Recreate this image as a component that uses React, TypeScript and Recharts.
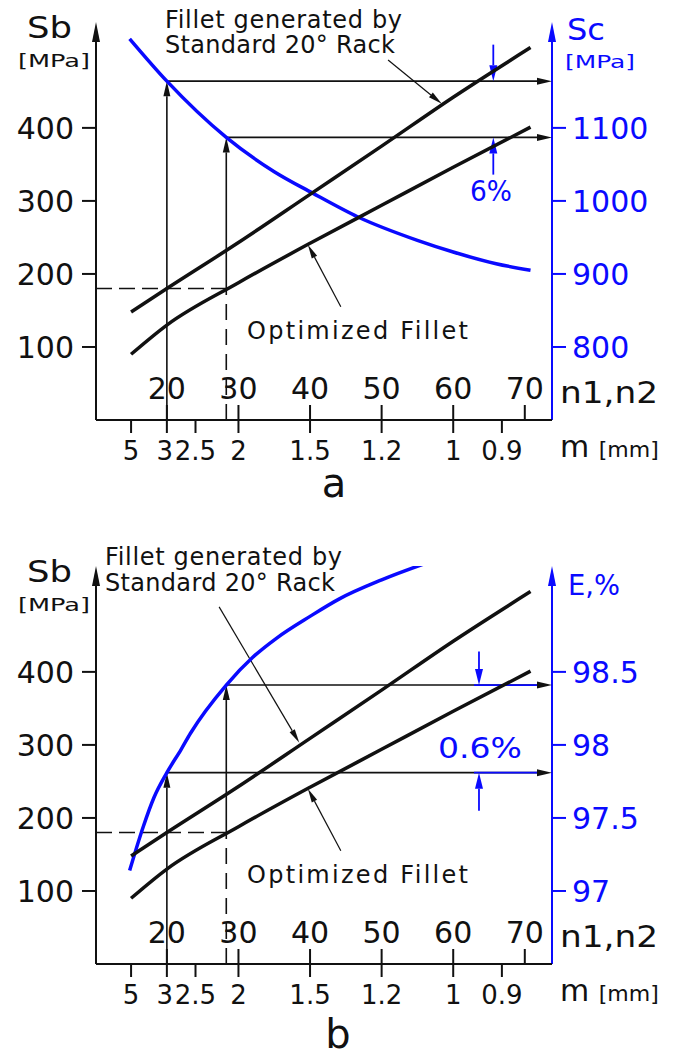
import React from 'react';
import {ComposedChart, Line, ReferenceLine, XAxis, YAxis} from 'recharts';

const FONT = "'DejaVu Sans', sans-serif";
const BLUE = '#0a0aff';
const INK = '#111';

const N_MIN = 10.1;
const N_MAX = 73.8;
const SB_MAX = 545;

// tooth numbers (upper row) and module m (lower row, placed at matching n)
const nTicks = [20, 30, 40, 50, 60, 70];
const mTickPos = [15, 20, 24, 30, 40, 50, 60, 66.8];
const mTickLabels = ['5', '3', '2.5', '2', '1.5', '1.2', '1', '0.9'];
const bottomTicks = Array.from(new Set([...nTicks, ...mTickPos])).sort((a, b) => a - b);

const sbTicks = [100, 200, 300, 400];
const scTicks = [800, 900, 1000, 1100];
const effTicks = [97, 97.5, 98, 98.5];

// bending stress Sb, same in both panels
const nStress = [15, 20, 30, 40, 50, 60, 70.8];
const sbStandard = [148, 180, 243, 309, 375, 442, 510];
const sbOptimized = [90, 130, 188, 242, 294, 346, 401];

// contact stress Sc (panel a)
const nContact = [14.8, 20, 28.3, 35, 40.3, 46.7, 55, 60, 66, 70.8];
const scValues = [1222, 1164, 1087, 1040, 1011, 978, 946, 930, 914, 905];

// efficiency E (panel b)
const nEff = [14.8, 16.7, 18.2, 20, 22, 23.3, 28.3, 32, 35.3, 40, 44.1, 50, 57.7];
const effValues = [97.14, 97.44, 97.64, 97.81, 97.97, 98.08, 98.41, 98.6, 98.73, 98.88, 99.0, 99.13, 99.27];

// design points and the Sb limit
const nPicks = [20, 28.3];
const sbLimit = 180;

const arrow = (color: string, width: number, head: boolean, dash?: string, headLen = 15, half = 3.5) => (p: any) => {
  const {x1, y1, x2, y2} = p;
  const len = Math.hypot(x2 - x1, y2 - y1) || 1;
  const ux = (x2 - x1) / len;
  const uy = (y2 - y1) / len;
  const bx = x2 - ux * headLen;
  const by = y2 - uy * headLen;
  return (
    <g>
      <line x1={x1} y1={y1} x2={head ? bx : x2} y2={head ? by : y2} stroke={color} strokeWidth={width} strokeDasharray={dash} />
      {head && <polygon points={`${x2},${y2} ${bx - uy * half},${by + ux * half} ${bx + uy * half},${by - ux * half}`} fill={color} />}
    </g>
  );
};

const tickStyle = {fill: INK, fontSize: 30, fontFamily: FONT};

// n1,n2 ticks point up from the axis, m ticks point down
function BottomTick(props: any) {
  const {x, y, payload} = props;
  const ni = nTicks.indexOf(payload.value);
  const mi = mTickPos.indexOf(payload.value);
  return (
    <g fontFamily={FONT} fill={INK}>
      {ni >= 0 && (
        <>
          <line x1={x} x2={x} y1={y} y2={y - 15} stroke={INK} strokeWidth={2} />
          <text x={x} y={y - 21} fontSize={30} textAnchor="middle">{nTicks[ni]}</text>
        </>
      )}
      {mi >= 0 && (
        <>
          <line x1={x} x2={x} y1={y} y2={y + 13} stroke={INK} strokeWidth={2} />
          <text x={mTickLabels[mi] === '3' ? x - 2 : x} y={y + 40} fontSize={26} textAnchor="middle">{mTickLabels[mi]}</text>
        </>
      )}
    </g>
  );
}

function Panel({kind, top}: {kind: 'a' | 'b'; top: number}) {
  const isA = kind === 'a';
  const rDomain = isA ? [700, 1245] : [96.5, 99.225];
  const toRight = (sb: number) => rDomain[0] + (sb * (rDomain[1] - rDomain[0])) / SB_MAX;
  const curveN = isA ? nContact : nEff;
  const curveV = isA ? scValues : effValues;
  const curve = curveN.map((n, i) => ({n, v: curveV[i]}));
  const picks = nPicks.map(n => curveV[curveN.indexOf(n)]);
  const standard = nStress.map((n, i) => ({n, sb: sbStandard[i]}));
  const optimized = nStress.map((n, i) => ({n, sb: sbOptimized[i]}));

  // dimension arrows marking the gain, one per design point
  const dimN = isA ? 65.6 : 63.6;
  const dimFrom = isA ? [1214, 1036] : [97.55, 98.64];
  const standardLeader = isA ? [{x: 50.9, y: 493}, {x: 58.4, y: 433}] : [{x: 27.3, y: 489}, {x: 38.5, y: 303}];
  const optimizedLeader = [{x: 44.3, y: 155}, {x: 39.7, y: 240}];

  return (
    <div style={{position: 'absolute', left: 0, top, width: 679, height: 512}}>
      <ComposedChart width={679} height={512} margin={{top: 22, right: 0, bottom: 52, left: 0}}>
        <XAxis xAxisId="n" dataKey="n" type="number" domain={[N_MIN, N_MAX]} allowDataOverflow ticks={bottomTicks} interval={0} height={40}
          axisLine={{stroke: INK, strokeWidth: 2}} tickLine={false} tickSize={0} tickMargin={0} tick={<BottomTick />} />
        <YAxis yAxisId="sb" type="number" domain={[0, SB_MAX]} allowDataOverflow ticks={sbTicks} width={96} axisLine={false}
          tickSize={14} tickMargin={8} tickLine={{stroke: INK, strokeWidth: 2}} tick={tickStyle} />
        <YAxis yAxisId="r" orientation="right" type="number" domain={rDomain} allowDataOverflow ticks={isA ? scTicks : effTicks} width={127}
          axisLine={false} tickSize={14} tickMargin={6} tickLine={{stroke: BLUE, strokeWidth: 2}} tick={{...tickStyle, fill: BLUE}} />

        {/* axes with arrow tips */}
        <ReferenceLine xAxisId="n" yAxisId="sb" ifOverflow="visible" segment={[{x: N_MIN, y: 0}, {x: N_MIN, y: SB_MAX}]} shape={arrow(INK, 2, true, undefined, 20, 4)} />
        <ReferenceLine xAxisId="n" yAxisId="r" ifOverflow="visible" segment={[{x: N_MAX, y: rDomain[0]}, {x: N_MAX, y: rDomain[1]}]} shape={arrow(BLUE, 2, true, undefined, 20, 4)} />

        {/* Sb limit and design points */}
        <ReferenceLine xAxisId="n" yAxisId="sb" ifOverflow="visible" segment={[{x: N_MIN, y: sbLimit}, {x: nPicks[1], y: sbLimit}]} shape={arrow(INK, 1.6, false, '16 7')} />
        <ReferenceLine xAxisId="n" yAxisId="sb" ifOverflow="visible" segment={[{x: nPicks[1], y: 0}, {x: nPicks[1], y: sbLimit}]} shape={arrow(INK, 1.6, false, '16 9')} />
        <ReferenceLine xAxisId="n" yAxisId="r" ifOverflow="visible" segment={[{x: nPicks[1], y: toRight(sbLimit)}, {x: nPicks[1], y: picks[1]}]} shape={arrow(INK, 1.6, true)} />
        <ReferenceLine xAxisId="n" yAxisId="r" ifOverflow="visible" segment={[{x: nPicks[0], y: rDomain[0]}, {x: nPicks[0], y: picks[0]}]} shape={arrow(INK, 1.6, true)} />
        {picks.map((v, i) => (
          <ReferenceLine key={`h${i}`} xAxisId="n" yAxisId="r" ifOverflow="visible" segment={[{x: nPicks[i], y: v}, {x: N_MAX, y: v}]} shape={arrow(INK, 1.6, true)} />
        ))}
        {!isA && picks.map((v, i) => (
          <ReferenceLine key={`hb${i}`} xAxisId="n" yAxisId="r" ifOverflow="visible" segment={[{x: 62.9, y: v}, {x: 71.7, y: v}]} shape={arrow(BLUE, 1.8, false)} />
        ))}
        {picks.map((v, i) => (
          <ReferenceLine key={`d${i}`} xAxisId="n" yAxisId="r" ifOverflow="visible" segment={[{x: dimN, y: dimFrom[i]}, {x: dimN, y: v}]} shape={arrow(BLUE, 1.8, true, undefined, 16, 4)} />
        ))}

        {/* leaders to the labels */}
        <ReferenceLine xAxisId="n" yAxisId="sb" ifOverflow="visible" segment={standardLeader} shape={arrow(INK, 1.2, true, undefined, 14, 3)} />
        <ReferenceLine xAxisId="n" yAxisId="sb" ifOverflow="visible" segment={optimizedLeader} shape={arrow(INK, 1.2, true, undefined, 14, 3)} />

        <Line xAxisId="n" yAxisId="r" data={curve} dataKey="v" type="monotone" stroke={BLUE} strokeWidth={3.5} dot={false} isAnimationActive={false} />
        <Line xAxisId="n" yAxisId="sb" data={standard} dataKey="sb" type="monotone" stroke={INK} strokeWidth={3.5} dot={false} isAnimationActive={false} />
        <Line xAxisId="n" yAxisId="sb" data={optimized} dataKey="sb" type="monotone" stroke={INK} strokeWidth={3.5} dot={false} isAnimationActive={false} />
      </ComposedChart>

      <svg width={679} height={512} style={{position: 'absolute', left: 0, top: 0, pointerEvents: 'none', overflow: 'visible'}} fontFamily={FONT}>
        <text x={27} y={38} fontSize={31} fill={INK} textLength={45} lengthAdjust="spacingAndGlyphs">Sb</text>
        <text x={18} y={67} fontSize={18} fill={INK} textLength={72} lengthAdjust="spacingAndGlyphs">[MPa]</text>
        {isA ? (
          <>
            <text x={567} y={40} fontSize={31} fill={BLUE} textLength={38} lengthAdjust="spacingAndGlyphs">Sc</text>
            <text x={565} y={68} fontSize={18} fill={BLUE} textLength={70} lengthAdjust="spacingAndGlyphs">[MPa]</text>
            <text x={470} y={201} fontSize={28} fill={BLUE} textLength={42} lengthAdjust="spacingAndGlyphs">6%</text>
          </>
        ) : (
          <>
            <text x={568} y={51} fontSize={29} fill={BLUE} textLength={52} lengthAdjust="spacingAndGlyphs">E,%</text>
            <text x={438} y={214} fontSize={29} fill={BLUE} textLength={84} lengthAdjust="spacingAndGlyphs">0.6%</text>
          </>
        )}
        <text x={isA ? 165 : 105} y={isA ? 28 : 21} fontSize={24} fill={INK} textLength={237}>Fillet generated by</text>
        <text x={isA ? 165 : 105} y={isA ? 53 : 47} fontSize={24} fill={INK} textLength={230}>Standard 20° Rack</text>
        <text x={247} y={339} fontSize={24} fill={INK} textLength={221}>Optimized Fillet</text>
        <text x={560} y={403} fontSize={31} fill={INK} textLength={98} lengthAdjust="spacingAndGlyphs">n1,n2</text>
        <text x={560} y={457} fill={INK}>
          <tspan fontSize={30}>m </tspan>
          <tspan fontSize={22}>[mm]</tspan>
        </text>
        <text x={isA ? 334 : 338} y={isA ? 497 : 504} fontSize={40} fill={INK} textAnchor="middle">{kind}</text>
      </svg>
    </div>
  );
}

export default function App() {
  return (
    <div style={{position: 'absolute', left: 0, top: 0, width: 679, height: 1057, background: '#fff', overflow: 'hidden'}}>
      <Panel kind="a" top={0} />
      <Panel kind="b" top={544} />
    </div>
  );
}
